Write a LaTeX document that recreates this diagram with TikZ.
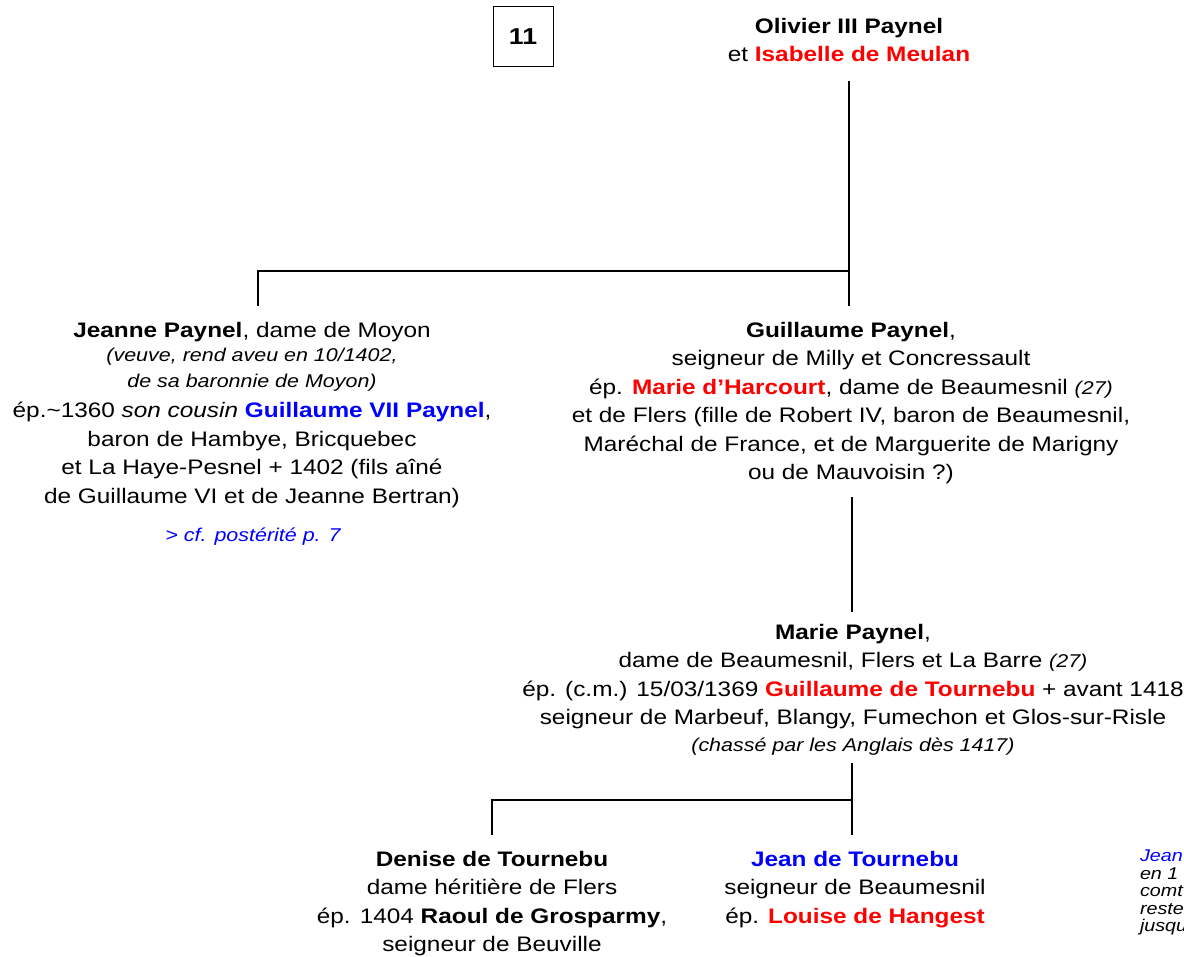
\documentclass[tikz,border=0pt]{standalone}
\usepackage{fontspec}
\setmainfont{Liberation Sans}[FakeStretch=1.16]
\newcommand{\txtmain}{\fontsize{21}{28.5}\selectfont}
\newcommand{\txtsmall}{\fontsize{18.5}{22}\selectfont\itshape}
\newcommand{\txtit}[1]{{\txtsmall #1}}
\newcommand{\nm}[1]{\textbf{#1}}
\newcommand{\nmred}[1]{\textcolor{red}{\textbf{#1}}}
\newcommand{\nmblue}[1]{\textcolor{blue}{\textbf{#1}}}

\begin{document}
\begin{tikzpicture}[x=1pt,y=-1pt,
    every node/.style={inner sep=0pt, outer sep=0pt},
    person/.style={anchor=north, align=center, font=\txtmain},
    link/.style={line width=2pt}]
\useasboundingbox (0,0) rectangle (1184,957);

% numero de la page
\node[draw, line width=1pt, minimum width=60pt, minimum height=60pt,
      font=\fontsize{23}{26}\selectfont\bfseries] (num) at (523,37) {11};

% generation 1
\node[person] (oliv) at (849,18) {\nm{Olivier III Paynel}\\ et \nmred{Isabelle de Meulan}};

% generation 2
\node[person] (jeanne) at (252,322) {\nm{Jeanne Paynel}, dame de Moyon\\[-4pt]
    \txtit{(veuve, rend aveu en 10/1402,}\\[-3pt]
    \txtit{de sa baronnie de Moyon)}\\[2pt]
    ép.\textasciitilde 1360 \textit{son cousin} \nmblue{Guillaume VII Paynel},\\
    baron de Hambye, Bricquebec\\
    et La Haye-Pesnel + 1402 (fils aîné\\
    de Guillaume VI et de Jeanne Bertran)};
\node[anchor=north, font=\txtsmall] (cfp) at (253,528) {\textcolor{blue}{> cf. postérité p. 7}};

\node[person] (guill) at (851,322) {\nm{Guillaume Paynel},\\
    seigneur de Milly et Concressault\\
    ép. \nmred{Marie d’Harcourt}, dame de Beaumesnil \txtit{(27)}\\
    et de Flers (fille de Robert IV, baron de Beaumesnil,\\
    Maréchal de France, et de Marguerite de Marigny\\
    ou de Mauvoisin ?)};

% generation 3
\node[person] (marie) at (853,624) {\nm{Marie Paynel},\\
    dame de Beaumesnil, Flers et La Barre \txtit{(27)}\\
    ép. (c.m.) 15/03/1369 \nmred{Guillaume de Tournebu} + avant 1418\\
    seigneur de Marbeuf, Blangy, Fumechon et Glos-sur-Risle\\[-2pt]
    \txtit{(chassé par les Anglais dès 1417)}};

% generation 4
\node[person] (denise) at (492,851) {\nm{Denise de Tournebu}\\
    dame héritière de Flers\\
    ép. 1404 \nm{Raoul de Grosparmy},\\
    seigneur de Beuville};
\node[person] (jean) at (855,851) {\nmblue{Jean de Tournebu}\\
    seigneur de Beaumesnil\\
    ép. \nmred{Louise de Hangest}};

\node[anchor=north west, align=left, font=\fontsize{17}{17.5}\selectfont\itshape] (note) at (1140,850)
    {\textcolor{blue}{Jean}\\ en 1\\ comt\\ reste\\ jusqu};

% liens
\coordinate (fork1) at (849,271);
\coordinate (fork2) at (852,800);
\draw[link, shorten <=19pt] (oliv.south) -- (fork1);
\draw[link, shorten >=16pt] (fork1) -- (fork1 |- guill.north);
\draw[link, shorten >=16pt] (fork1) -| ([xshift=6pt]jeanne.north);
\draw[link, shorten <=13pt, shorten >=12pt] (guill.south -| fork2) -- (marie.north -| fork2);
\draw[link, shorten <=8pt] (marie.south -| fork2) -- (fork2);
\draw[link, shorten >=16pt] (fork2) -- (fork2 |- jean.north);
\draw[link, shorten >=16pt] (fork2) -| (denise.north);
\end{tikzpicture}
\end{document}
